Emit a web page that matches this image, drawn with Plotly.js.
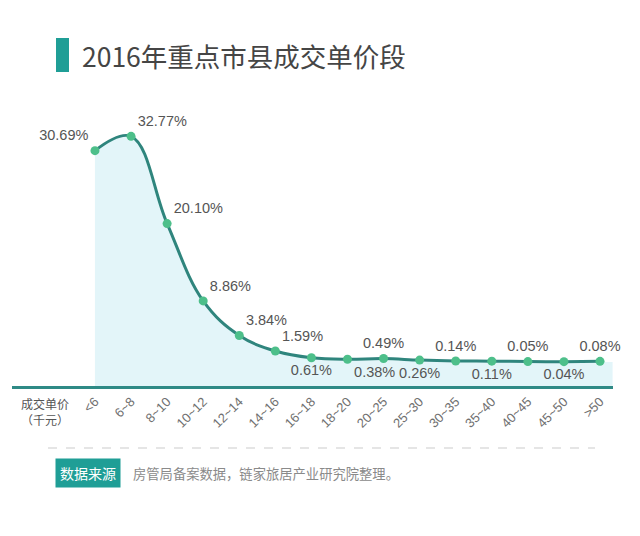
<!DOCTYPE html>
<html>
<head>
<meta charset="utf-8">
<script src="https://cdn.plot.ly/plotly-3.0.1.min.js"></script>
<style>
  html, body { margin: 0; padding: 0; background: #fff; }
  #chart { width: 640px; height: 536px; }
</style>
</head>
<body>
<div id="chart"></div>
<script>
(function () {
  'use strict';

  /* ── Data ── */
  var categories = ['<6', '6~8', '8~10', '10~12', '12~14', '14~16', '16~18', '18~20',
                    '20~25', '25~30', '30~35', '35~40', '40~45', '45~50', '>50'];
  var shares = [30.69, 32.77, 20.10, 8.86, 3.84, 1.59, 0.61, 0.38,
                0.49, 0.26, 0.14, 0.11, 0.05, 0.04, 0.08];
  var labelPos = ['top left', 'top right', 'top right', 'top right', 'top right', 'top right',
                  'bottom center', 'bottom right', 'top center', 'bottom center', 'top center',
                  'bottom center', 'top center', 'bottom center', 'top center'];

  /* ── Colours ── */
  var C = {
    teal:   '#1f9e96',
    line:   '#2f857d',
    marker: '#4dbf8a',
    fill:   'rgba(220,243,248,0.8)',
    text:   '#555555',
    axis:   '#2f8a86',
  };

  var W = 640, H = 536;
  var M = { l: 12, r: 27, t: 121, b: 150 };
  var plotW = W - M.l - M.r, plotH = H - M.t - M.b;

  /* pixel -> paper helpers */
  function px(x) { return (x - M.l) / plotW; }
  function py(y) { return (H - M.b - y) / plotH; }

  var FONT = '"Liberation Sans", Arial, "Noto Sans CJK SC", sans-serif';
  var CJK = '"Noto Sans CJK SC", "Liberation Sans", sans-serif';

  var trace = {
    x: categories,
    y: shares,
    type: 'scatter',
    mode: 'lines+markers+text',
    line: { color: C.line, width: 3, shape: 'spline', smoothing: 1.1 },
    marker: { color: C.marker, size: 9 },
    fill: 'tozeroy',
    fillcolor: C.fill,
    text: shares.map(function (v) { return v.toFixed(2) + '%'; }),
    textposition: labelPos,
    textfont: { family: FONT, size: 14.5, color: C.text },
    cliponaxis: false,
    hoverinfo: 'x+text',
  };

  var shapes = [
    /* light band under zero down to the axis line */
    {
      type: 'rect', layer: 'below', xref: 'x', yref: 'y',
      x0: 0, x1: 14.35, y0: -3.5, y1: 0,
      fillcolor: C.fill, line: { width: 0 },
    },
    /* title bar */
    {
      type: 'rect', xref: 'paper', yref: 'paper',
      x0: px(56), x1: px(69), y0: py(72), y1: py(38),
      fillcolor: C.teal, line: { width: 0 },
    },
    /* dashed separator */
    {
      type: 'line', xref: 'paper', yref: 'paper',
      x0: px(48), x1: px(595), y0: py(448), y1: py(448),
      line: { color: '#dddddd', width: 1.5, dash: 'dash' },
    },
  ];

  var annotations = [
    {
      xref: 'paper', yref: 'paper', x: px(80), y: py(55),
      xanchor: 'left', yanchor: 'middle', showarrow: false,
      text: '2016年重点市县成交单价段',
      font: { family: CJK, size: 26.5, color: '#454545' },
    },
    {
      xref: 'paper', yref: 'paper', x: px(45), y: py(411),
      xanchor: 'center', yanchor: 'middle', showarrow: false,
      text: '成交单价<br>（千元）',
      font: { family: CJK, size: 12, color: C.text },
    },
    {
      xref: 'paper', yref: 'paper', x: px(55), y: py(473),
      xanchor: 'left', yanchor: 'middle', showarrow: false,
      text: '数据来源', bgcolor: C.teal, borderpad: 4,
      font: { family: CJK, size: 14, color: '#ffffff' },
    },
    {
      xref: 'paper', yref: 'paper', x: px(131), y: py(473),
      xanchor: 'left', yanchor: 'middle', showarrow: false,
      text: '房管局备案数据，链家旅居产业研究院整理。',
      font: { family: CJK, size: 13.3, color: '#8a8a8a' },
    },
  ];

  var layout = {
    width: W, height: H,
    margin: M,
    paper_bgcolor: '#ffffff',
    plot_bgcolor: '#ffffff',
    showlegend: false,
    xaxis: {
      type: 'category',
      range: [-2.3, 14.36],
      showgrid: false, zeroline: false,
      showline: true, linecolor: C.axis, linewidth: 3,
      ticks: '', tickangle: -45,
      tickfont: { family: FONT, size: 13, color: '#707070' },
      fixedrange: true,
    },
    yaxis: {
      range: [-3.5, 35],
      showgrid: false, zeroline: false, showline: false,
      showticklabels: false, ticks: '',
      fixedrange: true,
    },
    shapes: shapes,
    annotations: annotations,
  };

  Plotly.newPlot('chart', [trace], layout, { displayModeBar: false, staticPlot: true });
})();
</script>
</body>
</html>
